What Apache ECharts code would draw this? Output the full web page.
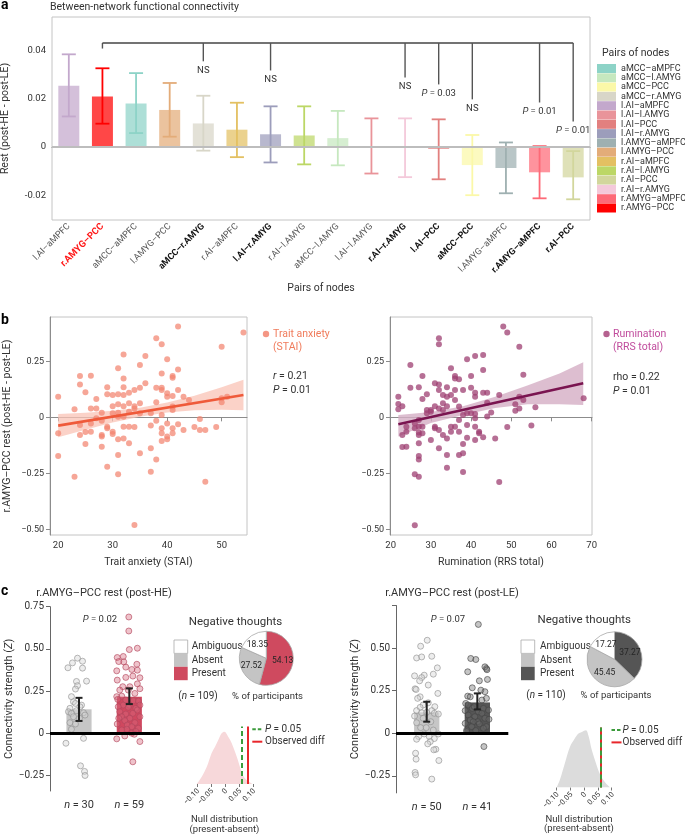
<!DOCTYPE html>
<html><head><meta charset="utf-8">
<script src="https://cdn.jsdelivr.net/npm/echarts@6/dist/echarts.min.js"></script>
<style>html,body{margin:0;padding:0;background:#fff}#c{width:685px;height:834px}</style>
</head><body><div id="c"></div><script>
// ---------------- DATA ----------------
const pairs = ['l.AI–aMPFC','r.AMYG–PCC','aMCC–aMPFC','l.AMYG–PCC','aMCC–r.AMYG','r.AI–aMPFC','l.AI–r.AMYG','r.AI–l.AMYG','aMCC–l.AMYG','l.AI–l.AMYG','r.AI–r.AMYG','l.AI–PCC','aMCC–PCC','l.AMYG–aMPFC','r.AMYG–aMPFC','r.AI–PCC'];
const restDiff = [0.0255,0.021,0.0181,0.0154,0.0098,0.0072,0.0053,0.0048,0.0037,0.0003,0.0001,-0.0008,-0.0075,-0.0087,-0.0105,-0.0126];
const errLow  = [0.0127,0.0097,0.0058,0.0043,-0.0015,-0.0042,-0.0064,-0.0072,-0.0076,-0.011,-0.0125,-0.0134,-0.020,-0.0192,-0.0213,-0.0217];
const errHigh = [0.0385,0.0327,0.0307,0.0266,0.0213,0.0184,0.0169,0.0169,0.015,0.0119,0.0119,0.0115,0.005,0.0019,0.0004,-0.0017];
const legendPairs = ['aMCC–aMPFC','aMCC–l.AMYG','aMCC–PCC','aMCC–r.AMYG','l.AI–aMPFC','l.AI–l.AMYG','l.AI–PCC','l.AI–r.AMYG','l.AMYG–aMPFC','l.AMYG–PCC','r.AI–aMPFC','r.AI–l.AMYG','r.AI–PCC','r.AI–r.AMYG','r.AMYG–aMPFC','r.AMYG–PCC'];
const boldPairs = ['aMCC–r.AMYG','l.AI–r.AMYG','r.AI–r.AMYG','l.AI–PCC','aMCC–PCC','r.AMYG–aMPFC','r.AI–PCC'];
const highlightPair = 'r.AMYG–PCC';
const bracketTop = 0.0432;
const bracketCats = [1,4,6,10,11,12,14,15];
const bracketEnds = [0.0409,0.0356,0.0318,0.0289,0.026,0.0198,0.0185,0.0106];
const bracketLabels = ['','NS','NS','NS','P = 0.03','NS','P = 0.01','P = 0.01'];
const yTicksA = [-0.02,0,0.02,0.04];

const anxiety = [[20,0.092],[20,-0.071],[20,-0.173],[23,0.036],[23,-0.265],[24,0.185],[24,0.147],[24,-0.034],[24,-0.079],[25,0.112],[25,-0.065],[25,-0.119],[26,0.186],[26,0.040],[26,-0.027],[26,-0.064],[27,0.039],[27,0.082],[27,-0.004],[28,-0.015],[28,-0.079],[28,-0.086],[28,-0.131],[28,0.021],[29,0.134],[29,0.103],[29,-0.042],[29,-0.049],[29,-0.22],[30,0.10],[30,0.05],[30,0.018],[30,-0.064],[30,-0.074],[31,0.219],[31,0.103],[31,0.058],[31,0.021],[31,0.003],[31,-0.098],[31,-0.168],[31,-0.254],[32,0.281],[32,0.173],[32,0.134],[32,0.10],[32,0.05],[32,0.003],[32,-0.042],[32,-0.094],[33,0.11],[33,0.063],[33,0.025],[33,-0.042],[33,-0.116],[34,0.122],[34,0.040],[34,-0.043],[34,-0.48],[34,0.05],[35,0.234],[35,0.132],[35,0.063],[35,0.018],[35,-0.16],[36,0.274],[36,0.152],[37,0.018],[37,-0.036],[37,-0.138],[37,-0.243],[38,0.353],[38,0.132],[38,0.067],[38,-0.015],[38,-0.188],[39,0.326],[39,0.196],[39,0.132],[39,0.122],[39,0.01],[39,-0.049],[39,-0.071],[39,-0.106],[40,0.259],[40,0.107],[40,0.092],[40,-0.027],[40,-0.086],[40,-0.098],[41,0.185],[41,0.177],[41,0.095],[41,0.048],[41,0.033],[41,-0.049],[41,-0.071],[42,0.405],[42,0.214],[42,0.122],[42,-0.031],[43,0.092],[43,-0.057],[44,0.077],[45,-0.043],[46,-0.007],[46,-0.057],[47,-0.057],[47,-0.287],[49,-0.043],[50,0.315],[50,0.085],[50,0.067],[51,0.092],[54,0.379]];
const anxietyFit = [[20,-0.037],[54,0.100]];
const anxietyBand = [[20,-0.089,0.015],[25,-0.055,0.021],[30,-0.023,0.029],[35,0.003,0.043],[40,0.022,0.066],[45,0.032,0.096],[50,0.034,0.134],[54,0.032,0.168]];
const rumination = [[21.9,0.092],[21.9,0.06],[21.9,0.036],[22.9,0.05],[22.9,-0.079],[22.9,-0.132],[23.9,-0.042],[23.9,-0.064],[23.9,-0.131],[24.9,0.234],[24.9,0.132],[26,-0.027],[26,-0.049],[26,-0.254],[26,-0.482],[27,0.134],[27,-0.012],[27,-0.042],[27,-0.068],[27,-0.079],[27,-0.116],[27,-0.173],[27,-0.188],[27,-0.265],[27.9,0.185],[27.9,0.082],[27.9,-0.042],[27.9,-0.071],[29,0.103],[29,0.033],[29,0.018],[30,0.033],[30,0.025],[30,-0.101],[31,0.152],[31,0.05],[31,-0.042],[31,-0.049],[32,0.353],[32,0.326],[32,0.147],[32,0.122],[32,0.04],[32,-0.057],[32,-0.138],[33,0.1],[33,0.063],[33,0.033],[33,-0.079],[34,0.134],[34,0.092],[34,0.05],[34,-0.094],[34,-0.168],[34,-0.225],[35,0.219],[35,0.1],[35,-0.042],[35,-0.064],[36,0.185],[36,0.173],[36,0.122],[36,0.077],[36,-0.042],[37,0.17],[37,0.048],[37,-0.012],[37,-0.064],[37,-0.168],[38,0.122],[38,0.01],[38,-0.119],[38,-0.16],[38,-0.244],[39,0.259],[39,0.018],[39,-0.034],[39,-0.091],[40,0.185],[40,0.132],[40,0.018],[41,0.274],[41,0.11],[41,0.092],[41,0.015],[41,-0.004],[41,-0.042],[41,-0.101],[42,-0.064],[42,-0.071],[43,0.278],[43,0.211],[43,0.11],[43,-0.089],[44,0.11],[44,0.065],[44,0.004],[45,0.022],[46,-0.094],[47,0.1],[47,-0.289],[48,0.405],[49,0.379],[49,-0.043],[51,0.058],[51,0.03],[52,0.315],[52,0.092],[52,0.039],[53,0.19],[53,0.077],[56,0.045],[55,-0.036],[68,0.085]];
const ruminationFit = [[21.9,-0.031],[67.9,0.152]];
const ruminationBand = [[21.9,-0.086,0.01],[30,-0.025,0.024],[38,0.01,0.05],[46,0.042,0.092],[54,0.058,0.142],[62,0.058,0.196],[67.9,0.055,0.246]];
const scatterYTicks = [-0.5,-0.25,0,0.25];
const anxietyXTicks = [20,30,40,50];
const ruminationXTicks = [20,30,40,50,60,70];

// panel c: post-HE
const heCounts = [30,59];
const heMeans = [0.142,0.216];
const heErrLow = [0.073,0.173];
const heErrHigh = [0.21,0.266];
const heAbsent = [[-0.03,0.445],[-0.13,0.417],[0.07,0.427],[-0.22,0.388],[0.07,0.386],[-0.05,0.307],[0.15,0.309],[-0.03,0.282],[-0.07,0.262],[-0.15,0.217],[-0.11,0.187],[-0.07,0.177],[0.05,0.167],[0.02,0.157],[-0.18,0.148],[-0.05,0.134],[-0.21,0.128],[-0.15,0.118],[0.09,0.122],[0.12,0.108],[-0.11,0.098],[0.01,0.089],[-0.18,0.063],[-0.07,0.055],[-0.15,0.024],[0.09,-0.03],[-0.26,-0.059],[0.03,-0.193],[0.11,-0.226],[0.12,-0.25]];
const hePresent = [[-0.01,0.689],[-0.01,0.606],[0.16,0.504],[0.0,0.496],[-0.12,0.455],[-0.24,0.449],[-0.21,0.425],[-0.11,0.423],[0.15,0.409],[-0.07,0.392],[0.05,0.378],[0.16,0.374],[-0.25,0.37],[0.07,0.339],[-0.07,0.331],[0.21,0.329],[-0.24,0.315],[0.16,0.293],[-0.13,0.276],[0.01,0.276],[0.21,0.264],[-0.02,0.256],[-0.19,0.256],[0.11,0.236],[-0.15,0.22],[-0.25,0.217],[-0.23,0.201],[-0.07,0.197],[0.08,0.193],[0.18,0.191],[0.0,0.167],[-0.12,0.167],[0.21,0.167],[-0.22,0.157],[-0.02,0.154],[0.13,0.148],[0.16,0.138],[-0.19,0.128],[0.07,0.118],[-0.07,0.114],[0.21,0.098],[-0.15,0.098],[-0.21,0.089],[0.01,0.089],[-0.09,0.075],[0.11,0.063],[-0.24,0.055],[-0.04,0.049],[0.05,0.039],[0.18,0.03],[-0.05,0.024],[-0.15,0.02],[0.13,0.01],[0.05,0.0],[0.10,-0.006],[-0.09,-0.016],[-0.25,-0.033],[0.21,-0.049],[0.07,-0.169]];
const heThoughts = [['Present',54.13],['Absent',27.52],['Ambiguous',18.35]];
const heNull = [[-0.101,0],[-0.083,0.14],[-0.065,0.33],[-0.048,0.59],[-0.036,0.71],[-0.024,0.84],[-0.012,0.97],[-0.002,1.0],[0.012,0.9],[0.024,0.78],[0.042,0.52],[0.057,0.27],[0.071,0.11],[0.098,0]];
const heP05 = 0.063, heObserved = 0.077;

// panel c: post-LE
const leCounts = [50,41];
const leMeans = [0.123,0.181];
const leErrLow = [0.068,0.14];
const leErrHigh = [0.185,0.234];
const leAbsent = [[0.01,0.546],[-0.12,0.511],[-0.20,0.442],[-0.10,0.448],[0.10,0.452],[0.21,0.384],[-0.24,0.337],[-0.05,0.341],[0.13,0.347],[-0.10,0.327],[-0.14,0.308],[0.03,0.283],[-0.23,0.261],[-0.21,0.257],[0.22,0.234],[-0.13,0.214],[-0.18,0.205],[0.03,0.179],[-0.07,0.166],[0.16,0.156],[-0.13,0.152],[0.10,0.133],[-0.20,0.133],[-0.10,0.121],[0.0,0.123],[0.15,0.117],[0.23,0.113],[-0.24,0.101],[-0.07,0.088],[0.08,0.068],[-0.20,0.062],[-0.12,0.033],[-0.01,0.033],[0.13,0.019],[-0.05,-0.004],[0.23,-0.004],[0.05,-0.019],[-0.16,-0.019],[0.15,-0.031],[-0.20,-0.035],[0.07,-0.049],[0.02,-0.062],[0.18,-0.094],[0.14,-0.097],[-0.22,-0.117],[-0.21,-0.152],[0.24,-0.16],[-0.23,-0.23],[-0.22,-0.244],[0.10,-0.269]];
const lePresent = [[0.02,0.639],[-0.13,0.439],[-0.03,0.433],[0.15,0.39],[0.18,0.38],[-0.19,0.361],[0.20,0.316],[0.04,0.308],[-0.10,0.267],[0.07,0.253],[0.15,0.244],[-0.19,0.218],[-0.14,0.214],[0.18,0.205],[0.09,0.195],[-0.23,0.175],[-0.18,0.166],[-0.10,0.146],[0.12,0.146],[-0.06,0.156],[0.22,0.136],[-0.24,0.133],[0.02,0.127],[0.09,0.117],[-0.18,0.107],[-0.05,0.097],[0.15,0.088],[0.23,0.082],[-0.14,0.078],[0.01,0.068],[-0.08,0.068],[-0.24,0.058],[0.04,0.055],[-0.11,0.039],[0.18,0.039],[0.12,0.029],[-0.21,0.019],[-0.03,0.016],[-0.21,0.01],[0.13,-0.078],[0.19,0.373]];
const leThoughts = [['Present',37.27],['Absent',45.45],['Ambiguous',17.27]];
const leNull = [[-0.099,0],[-0.087,0.14],[-0.069,0.43],[-0.051,0.71],[-0.033,0.86],[-0.021,0.94],[-0.008,0.97],[0.007,1.0],[0.016,0.91],[0.028,0.66],[0.043,0.43],[0.058,0.23],[0.076,0.09],[0.094,0]];
const leP05 = 0.0616, leObserved = 0.0556;
const cYTicks = [-0.25,0,0.25,0.5,0.75];
const nullTicks = [-0.1,-0.05,0,0.05,0.1];

// ---------------- STYLE ----------------
const F = 'Roboto';
const TXT = '#333';
const pairColors = {
 'aMCC–aMPFC':'#8dd3c7','aMCC–l.AMYG':'#c6e8bf','aMCC–PCC':'#fbf8a8','aMCC–r.AMYG':'#d8d6c8',
 'l.AI–aMPFC':'#c3a8cc','l.AI–l.AMYG':'#e9949a','l.AI–PCC':'#e2807f','l.AI–r.AMYG':'#9c9dbb',
 'l.AMYG–aMPFC':'#9eb0b1','l.AMYG–PCC':'#e3ac79','r.AI–aMPFC':'#e3c062','r.AI–l.AMYG':'#bcd766',
 'r.AI–PCC':'#d2d69c','r.AI–r.AMYG':'#f4c9da','r.AMYG–aMPFC':'#fd6a77','r.AMYG–PCC':'#ff0000'};
const thoughtColorsHE = {Present:'#cf4a5f', Absent:'#c4c4c4', Ambiguous:'#ffffff'};
const thoughtColorsLE = {Present:'#555555', Absent:'#c4c4c4', Ambiguous:'#ffffff'};

const fmtA = v => v===0 ? '0' : v.toFixed(2);
const fmtM = v => Math.abs(v)<1e-9 ? '0' : (v<0?'−':'') + Math.abs(v).toFixed(2);
const richI = (s,c,w) => ({i:{fontStyle:'italic', fontSize:s, fontFamily:F, fill:c, color:c, fontWeight:w||'normal'}});
const italP = t => t.replace(/^P /,'{i|P} ').replace(/^r /,'{i|r} ');

function T(x,y,text,o){
  o=o||{};
  const s=o.size||10.5, c=o.fill||TXT;
  return {type:'text', x, y, silent:true, rotation:o.rot||0,
    style:{text, fill:c, fontSize:s, fontFamily:F, fontWeight:o.weight||'normal',
      align:o.align||'left', verticalAlign:o.valign||'middle', rich:richI(s,c)}};
}

const axLine = {lineStyle:{color:'#8c8c8c', width:1}};
const axTick = {length:4, lineStyle:{color:'#8c8c8c'}};
const axLab = (s) => ({fontFamily:F, fontSize:s||9.5, color:TXT});

// ---------------- SERIES ----------------
const series = [];
pairs.forEach((p,i)=>{
  series.push({type:'bar', name:p, xAxisIndex:0, yAxisIndex:0, silent:true, z:2,
    data: pairs.map((q,j)=> j===i ? restDiff[i] : '-'),
    barWidth:21, barGap:'-100%', itemStyle:{color:pairColors[p], opacity:0.72},
    markLine: i===0 ? {silent:true, symbol:'none', label:{show:false}, animation:false,
      lineStyle:{color:'#bdbdbd', width:2, type:'solid'}, data:[{yAxis:0}]} : undefined
  });
});
series.push({type:'custom', xAxisIndex:0, yAxisIndex:0, silent:true, z:3,
  data: pairs.map((p,i)=>[i, errLow[i], errHigh[i]]), encode:{x:0, y:[1,2]},
  renderItem:(params,api)=>{
    const i=api.value(0), a=api.coord([i,api.value(2)]), b=api.coord([i,api.value(1)]);
    const c=pairColors[pairs[i]], hw=7, st={stroke:c, lineWidth:1.8};
    return {type:'group', children:[
      {type:'line', shape:{x1:a[0],y1:a[1],x2:b[0],y2:b[1]}, style:st},
      {type:'line', shape:{x1:a[0]-hw,y1:a[1],x2:a[0]+hw,y2:a[1]}, style:st},
      {type:'line', shape:{x1:b[0]-hw,y1:b[1],x2:b[0]+hw,y2:b[1]}, style:st}]};
  }});
series.push({type:'custom', xAxisIndex:0, yAxisIndex:0, silent:true, z:4, clip:false,
  data: bracketCats.map((c,k)=>[c, bracketEnds[k]]), encode:{x:0,y:1},
  renderItem:(params,api)=>{
    const k=params.dataIndex, c=api.value(0);
    const t=api.coord([c,bracketTop]), e=api.coord([c,api.value(1)]);
    const kids=[{type:'line', shape:{x1:t[0],y1:t[1],x2:e[0],y2:e[1]}, style:{stroke:'#555', lineWidth:1.4}}];
    if(k===0){
      const l=api.coord([bracketCats[0],bracketTop]), r=api.coord([bracketCats[bracketCats.length-1],bracketTop]);
      kids.push({type:'line', shape:{x1:l[0],y1:l[1],x2:r[0],y2:r[1]}, style:{stroke:'#444', lineWidth:1.3}});
    }
    if(bracketLabels[k]) kids.push({type:'text', x:e[0], y:e[1]+9, style:{text:italP(bracketLabels[k]), fill:TXT, fontSize:9.5, fontFamily:F, align:'center', verticalAlign:'middle', rich:richI(9.5,TXT)}});
    return {type:'group', children:kids};
  }});

function bandSeries(band, xi, color, op){
  return {type:'custom', xAxisIndex:xi, yAxisIndex:xi, silent:true, z:1,
    data: band, encode:{x:0, y:[1,2]},
    renderItem:(params,api)=>{
      if(params.dataIndex!==0) return null;
      const up=band.map(b=>api.coord([b[0],b[2]]));
      const lo=band.slice().reverse().map(b=>api.coord([b[0],b[1]]));
      return {type:'polygon', shape:{points:up.concat(lo)}, style:{fill:color, opacity:op}};
    }};
}
series.push(bandSeries(anxietyBand,1,'#f9c3b6',0.75));
series.push({type:'scatter', xAxisIndex:1, yAxisIndex:1, silent:true, z:2, data:anxiety, symbolSize:6,
  itemStyle:{color:'#f2846f', opacity:0.72}});
series.push({type:'line', xAxisIndex:1, yAxisIndex:1, silent:true, z:3, data:anxietyFit, showSymbol:false,
  lineStyle:{color:'#ef5a3a', width:2.6}});
series.push(bandSeries(ruminationBand,2,'#d4aec4',0.8));
series.push({type:'scatter', xAxisIndex:2, yAxisIndex:2, silent:true, z:2, data:rumination, symbolSize:6,
  itemStyle:{color:'#9e3f72', opacity:0.75}});
series.push({type:'line', xAxisIndex:2, yAxisIndex:2, silent:true, z:3, data:ruminationFit, showSymbol:false,
  lineStyle:{color:'#7a1450', width:2.6}});

function groupBars(ai, means, lo, hi, colors){
  series.push({type:'custom', xAxisIndex:ai, yAxisIndex:ai, silent:true, z:1,
    data: means.map((m,g)=>[g,m]), encode:{x:0,y:1},
    renderItem:(params,api)=>{
      const g=api.value(0), a=api.coord([g-0.25,api.value(1)]), b=api.coord([g+0.25,0]);
      return {type:'rect', shape:{x:a[0], y:Math.min(a[1],b[1]), width:b[0]-a[0], height:Math.abs(b[1]-a[1])}, style:{fill:colors[g]}};
    },
    markLine:{silent:true, symbol:'none', label:{show:false}, animation:false,
      lineStyle:{color:'#000', width:3, type:'solid'}, data:[{yAxis:0}]}
  });
  series.push({type:'custom', xAxisIndex:ai, yAxisIndex:ai, silent:true, z:5,
    data: means.map((m,g)=>[g,lo[g],hi[g]]), encode:{x:0,y:[1,2]},
    renderItem:(params,api)=>{
      const g=api.value(0), a=api.coord([g,api.value(2)]), b=api.coord([g,api.value(1)]);
      const st={stroke:'#222', lineWidth:2}, hw=3.5;
      return {type:'group', children:[
        {type:'line', shape:{x1:a[0],y1:a[1],x2:b[0],y2:b[1]}, style:st},
        {type:'line', shape:{x1:a[0]-hw,y1:a[1],x2:a[0]+hw,y2:a[1]}, style:st},
        {type:'line', shape:{x1:b[0]-hw,y1:b[1],x2:b[0]+hw,y2:b[1]}, style:st}]};
    }});
}
function jitter(ai, pts, g, fill, border){
  series.push({type:'scatter', xAxisIndex:ai, yAxisIndex:ai, silent:true, z:3, symbolSize:6,
    data: pts.map(p=>[p[0]+g, p[1]]), itemStyle:{color:fill, borderColor:border, borderWidth:0.8}});
}
groupBars(3, heMeans, heErrLow, heErrHigh, ['#c6c6c6','#d0485f']);
jitter(3, heAbsent, 0, 'rgba(215,215,215,0.55)', '#8f8f8f');
jitter(3, hePresent, 1, 'rgba(215,105,125,0.5)', '#b2455b');
groupBars(5, leMeans, leErrLow, leErrHigh, ['#c6c6c6','#555555']);
jitter(5, leAbsent, 0, 'rgba(215,215,215,0.55)', '#8f8f8f');
jitter(5, lePresent, 1, 'rgba(110,110,110,0.5)', '#444');

function nullDist(ai, pts, color, p05, obs){
  series.push({type:'line', xAxisIndex:ai, yAxisIndex:ai, silent:true, data:pts, smooth:0.35, showSymbol:false,
    lineStyle:{width:0}, areaStyle:{color:color, opacity:1},
    markLine:{silent:true, symbol:'none', label:{show:false}, animation:false, data:[
      {xAxis:obs, lineStyle:{color:'#e8262b', width:2, type:'solid'}},
      {xAxis:p05, lineStyle:{color:'#3c9b3c', width:2, type:[5,3]}}]}
  });
}
nullDist(4, heNull, '#f7d8da', heP05, heObserved);
nullDist(6, leNull, '#dcdcdc', leP05, leObserved);

function pie(center, r, data, colors){
  series.push({type:'pie', center, radius:r, startAngle:90, clockwise:true, silent:true, animation:false,
    data: data.map(d=>({name:d[0], value:d[1], itemStyle:{color:colors[d[0]]}})),
    itemStyle:{borderColor:'#a8a8a8', borderWidth:0.8},
    label:{show:true, position:'inside', formatter:'{c}', fontFamily:F, fontSize:8.5, color:'#262626'},
    labelLine:{show:false}});
}
pie([266.3,658.3], 27, heThoughts, thoughtColorsHE);
pie([614.5,659.3], 27.5, leThoughts, thoughtColorsLE);

// ---------------- AXES ----------------
const noSplit = {show:false};
const xAxis = [
  {gridIndex:0, type:'category', data:pairs, axisLine:axLine, axisTick:Object.assign({alignWithLabel:true},axTick),
   axisLabel:{interval:0, rotate:45, margin:5, fontFamily:F, fontSize:9,
     formatter:v=> v===highlightPair ? `{r|${v}}` : (boldPairs.includes(v) ? `{b|${v}}` : `{n|${v}}`),
     rich:{n:{color:'#555',fontSize:9,fontFamily:F}, b:{color:'#111',fontWeight:'bold',fontSize:9,fontFamily:F}, r:{color:'#ff1a1a',fontWeight:'bold',fontSize:9.5,fontFamily:F}}},
   name:'Pairs of nodes', nameLocation:'middle', nameGap:63, nameTextStyle:{fontFamily:F,fontSize:10.5,color:TXT}},
  {gridIndex:1, type:'value', min:18.5, max:54.65, axisLine:axLine, axisTick:Object.assign({customValues:anxietyXTicks},axTick),
   axisLabel:Object.assign({customValues:anxietyXTicks, margin:6},axLab(9.5)), splitLine:noSplit,
   name:'Trait anxiety (STAI)', nameLocation:'middle', nameGap:22, nameTextStyle:{fontFamily:F,fontSize:10.5,color:TXT}},
  {gridIndex:2, type:'value', min:19.83, max:70.08, axisLine:axLine, axisTick:Object.assign({customValues:ruminationXTicks},axTick),
   axisLabel:Object.assign({customValues:ruminationXTicks, margin:6},axLab(9.5)), splitLine:noSplit,
   name:'Rumination (RRS total)', nameLocation:'middle', nameGap:22, nameTextStyle:{fontFamily:F,fontSize:10.5,color:TXT}},
  {gridIndex:3, type:'value', min:-0.5765, max:1.61, axisLine:{show:false}, axisTick:{show:false}, splitLine:noSplit,
   axisLabel:{customValues:[0,1], margin:9, fontFamily:F, fontSize:11, color:TXT, formatter:v=>`{i|n} = ${heCounts[Math.round(v)]}`, rich:richI(11,TXT)}},
  {gridIndex:4, type:'value', min:-0.105, max:0.105, axisLine:{show:false}, axisTick:{customValues:nullTicks, length:3, lineStyle:{color:'#777'}}, splitLine:noSplit,
   axisLabel:{show:false}},
  {gridIndex:5, type:'value', min:-0.607, max:1.612, axisLine:{show:false}, axisTick:{show:false}, splitLine:noSplit,
   axisLabel:{customValues:[0,1], margin:9, fontFamily:F, fontSize:11, color:TXT, formatter:v=>`{i|n} = ${leCounts[Math.round(v)]}`, rich:richI(11,TXT)}},
  {gridIndex:6, type:'value', min:-0.105, max:0.105, axisLine:{show:false}, axisTick:{customValues:nullTicks, length:3, lineStyle:{color:'#777'}}, splitLine:noSplit,
   axisLabel:{show:false}}
];
const cAxisLine = {onZero:false, lineStyle:{color:'#666'}};
const yAxis = [
  {gridIndex:0, type:'value', min:-0.0303, max:0.054, axisLine:axLine, axisTick:Object.assign({customValues:yTicksA},axTick),
   axisLabel:Object.assign({customValues:yTicksA, formatter:fmtA, margin:6},axLab(9.5)), splitLine:noSplit,
   name:'Rest (post-HE - post-LE)', nameLocation:'middle', nameGap:41, nameTextStyle:{fontFamily:F,fontSize:10.5,color:TXT}},
  {gridIndex:1, type:'value', min:-0.525, max:0.4478, axisLine:axLine, axisTick:Object.assign({customValues:scatterYTicks},axTick),
   axisLabel:Object.assign({customValues:scatterYTicks, formatter:fmtM, margin:6},axLab(9)), splitLine:noSplit,
   name:'r.AMYG–PCC rest (post-HE - post-LE)', nameLocation:'middle', nameGap:37, nameTextStyle:{fontFamily:F,fontSize:10.5,color:TXT}},
  {gridIndex:2, type:'value', min:-0.525, max:0.4478, axisLine:axLine, axisTick:Object.assign({customValues:scatterYTicks},axTick),
   axisLabel:Object.assign({customValues:scatterYTicks, formatter:fmtM, margin:6},axLab(9)), splitLine:noSplit},
  {gridIndex:3, type:'value', min:-0.342, max:0.75, axisLine:cAxisLine, axisTick:{customValues:cYTicks, length:4, lineStyle:{color:'#666'}},
   axisLabel:Object.assign({customValues:cYTicks, formatter:fmtM, margin:6},axLab(10)), splitLine:noSplit,
   name:'Connectivity strength ({i|Z})', nameLocation:'middle', nameGap:35, nameTextStyle:{fontFamily:F,fontSize:11,color:TXT, rich:richI(11,TXT)}},
  {gridIndex:4, type:'value', min:0, max:1.1, show:false},
  {gridIndex:5, type:'value', min:-0.35, max:0.75, axisLine:cAxisLine, axisTick:{customValues:cYTicks, length:4, lineStyle:{color:'#666'}},
   axisLabel:Object.assign({customValues:cYTicks.slice(0,4), formatter:fmtM, margin:6},axLab(10)), splitLine:noSplit,
   name:'Connectivity strength ({i|Z})', nameLocation:'middle', nameGap:33, nameTextStyle:{fontFamily:F,fontSize:11,color:TXT, rich:richI(11,TXT)}},
  {gridIndex:6, type:'value', min:0, max:1.05, show:false}
];
const gb = {show:true, borderColor:'#c4c4c4', borderWidth:1, backgroundColor:'transparent', outerBoundsMode:'none', containLabel:false};
const gn = {outerBoundsMode:'none', containLabel:false};
const grid = [
  Object.assign({left:52, top:17, width:538, height:203}, gb),
  Object.assign({left:50, top:317, width:197, height:218}, gb),
  Object.assign({left:390, top:317, width:202, height:218}, gb),
  Object.assign({left:50, top:606.7, width:110, height:184.3}, gn),
  Object.assign({left:195.6, top:726.5, width:58.8, height:57.5}, gn),
  Object.assign({left:396, top:605.5, width:112.3, height:187.4}, gn),
  Object.assign({left:555, top:727.5, width:58, height:60}, gn)
];

// ---------------- GRAPHIC (text annotations / small legends) ----------------
const g = [];
g.push(T(1,5,'a',{size:14,weight:'bold',fill:'#000'}));
g.push(T(1,320,'b',{size:14,weight:'bold',fill:'#000'}));
g.push(T(1,591,'c',{size:14,weight:'bold',fill:'#000'}));
g.push(T(50,7,'Between-network functional connectivity',{size:10.5}));
g.push(T(602,53,'Pairs of nodes',{size:10.5}));
g.push({type:'circle', shape:{cx:266,cy:334,r:3.2}, style:{fill:'#f2846f', opacity:0.85}, silent:true});
g.push(T(273,334,'Trait anxiety',{fill:'#f07c5c'}));
g.push(T(273,347,'(STAI)',{fill:'#f07c5c'}));
g.push(T(273,376,'{i|r} = 0.21'));
g.push(T(273,390,'{i|P} = 0.01'));
g.push({type:'circle', shape:{cx:606.5,cy:334,r:3.2}, style:{fill:'#a8477c', opacity:0.85}, silent:true});
g.push(T(613,334,'Rumination',{fill:'#c04b9c'}));
g.push(T(613,347,'(RRS total)',{fill:'#c04b9c'}));
g.push(T(613,377,'rho = 0.22'));
g.push(T(613,391,'{i|P} = 0.01'));
g.push(T(104,593,'r.AMYG–PCC rest (post-HE)',{size:11,align:'center'}));
g.push(T(452,593,'r.AMYG–PCC rest (post-LE)',{size:11,align:'center'}));
g.push(T(100,620,'{i|P} = 0.02',{size:9.5,align:'center'}));
g.push(T(448,620,'{i|P} = 0.07',{size:9.5,align:'center'}));
function pieLegend(x0, tx, titleX, nLabel, nX, pctX, colors, yTitle, yN){
  g.push(T(titleX,yTitle,'Negative thoughts',{size:11.5,align:'center'}));
  ['Ambiguous','Absent','Present'].forEach((k,i)=>{
    g.push({type:'rect', shape:{x:x0, y:640+i*13.4, width:13.7, height:13.4}, silent:true,
      style:{fill:colors[k], stroke: k==='Ambiguous' ? '#aaa' : null, lineWidth:0.8}});
    g.push(T(tx, 646.7+i*13.4, k, {size:10}));
  });
  g.push(T(nX,yN,nLabel,{size:10,align:'center'}));
  g.push(T(pctX,yN,'% of participants',{size:9.5,align:'center'}));
}
pieLegend(174, 191.7, 235.5, '({i|n} = 109)', 198, 267.5, thoughtColorsHE, 621.7, 696.3);
pieLegend(521, 540, 584.3, '({i|n} = 110)', 546, 616, thoughtColorsLE, 620, 695.5);
function nullLegend(x0, tx, y0){
  g.push({type:'line', shape:{x1:x0,y1:y0,x2:x0+10,y2:y0}, silent:true, style:{stroke:'#3c9b3c', lineWidth:2, lineDash:[3.5,2]}});
  g.push(T(tx,y0,'{i|P} = 0.05',{size:10}));
  g.push({type:'line', shape:{x1:x0,y1:y0+12.4,x2:x0+10,y2:y0+12.4}, silent:true, style:{stroke:'#e8262b', lineWidth:2}});
  g.push(T(tx,y0+12.4,'Observed diff',{size:10}));
}
nullLegend(252.3, 265, 729.3);
nullLegend(611.5, 622.5, 730);
g.push(T(224.5,820,'Null distribution',{size:9.5,align:'center'}));
g.push(T(224.5,829.5,'(present-absent)',{size:9.5,align:'center'}));
g.push(T(579,819.5,'Null distribution',{size:9.5,align:'center'}));
g.push(T(579,829,'(present-absent)',{size:9.5,align:'center'}));

const option = {
  animation:false, backgroundColor:'#fff',
  textStyle:{fontFamily:F},
  grid, xAxis, yAxis, series, graphic:g,
  legend:[{orient:'vertical', left:597, top:64, padding:0, itemWidth:19, itemHeight:9, itemGap:0.3, icon:'rect',
    selectedMode:false, data:legendPairs, itemStyle:{opacity:1},
    textStyle:{fontFamily:F, fontSize:9, color:TXT, lineHeight:9}}]
};
const chart = echarts.init(document.getElementById('c'), null, {renderer:'canvas'});
chart.setOption(option);

// rotated tick labels of the null-distribution axes, positioned through the axes' own scales
[4,6].forEach(ai=>{
  nullTicks.forEach(v=>{
    const p = chart.convertToPixel({xAxisIndex:ai, yAxisIndex:ai}, [v,0]);
    g.push(T(p[0]+1.5, p[1]+6, fmtM(v), {size:7.5, align:'right', rot:Math.PI/4}));
  });
});
chart.setOption({graphic:g});
</script></body></html>
